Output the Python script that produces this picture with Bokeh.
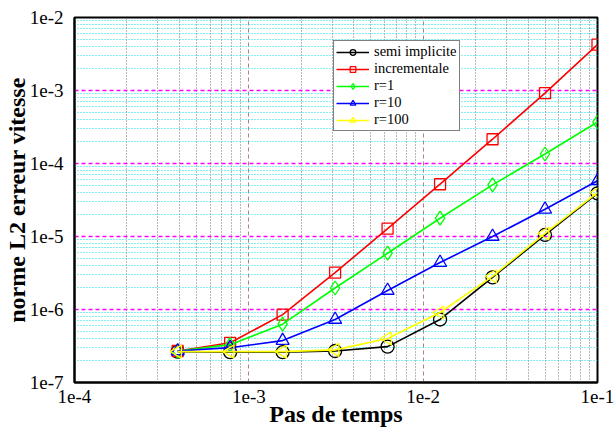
from bokeh.plotting import figure
from bokeh.models import FixedTicker, CustomJSTickFormatter, Legend, LegendItem
from bokeh.embed import file_html
from bokeh.resources import INLINE
import math

# ---- data ----
dt = [0.000390625, 0.00078125, 0.0015625, 0.003125, 0.00625, 0.0125, 0.025, 0.05, 0.1]
semi_implicite = [2.65e-7, 2.6e-7, 2.6e-7, 2.7e-7, 3.1e-7, 7.3e-7, 2.75e-6, 1.05e-5, 3.9e-5]
incrementale = [2.7e-7, 3.5e-7, 8.5e-7, 3.2e-6, 1.28e-5, 5.2e-5, 2.15e-4, 9.2e-4, 4.25e-3]
r1 = [2.7e-7, 3.3e-7, 6.3e-7, 1.97e-6, 5.9e-6, 1.78e-5, 5.1e-5, 1.35e-4, 3.7e-4]
r10 = [2.7e-7, 3.0e-7, 3.75e-7, 7.3e-7, 1.82e-6, 4.4e-6, 1.0e-5, 2.36e-5, 5.8e-5]
r100 = [2.65e-7, 2.65e-7, 2.65e-7, 2.8e-7, 4.0e-7, 9.1e-7, 2.85e-6, 1.1e-5, 4.0e-5]

series_labels = ["semi implicite", "incrementale", "r=1", "r=10", "r=100"]
x_major = [1e-4, 1e-3, 1e-2, 1e-1]
y_major = [1e-7, 1e-6, 1e-5, 1e-4, 1e-3, 1e-2]

x_minor = [m * d for d in x_major[:-1] for m in range(2, 10)]
y_minor = [m * d for d in y_major[:-1] for m in range(2, 10)]

SERIF = "Liberation Serif"

p = figure(width=616, height=429, x_axis_type="log", y_axis_type="log",
           x_range=(1e-4, 1e-1), y_range=(1e-7, 1e-2),
           output_backend="svg", toolbar_location=None,
           min_border_left=73, min_border_right=19, min_border_top=17, min_border_bottom=45)
p.background_fill_color = "white"
p.border_fill_color = "white"
p.outline_line_color = "black"
p.outline_line_width = 2

p.xaxis.ticker = FixedTicker(ticks=x_major, minor_ticks=x_minor)
p.yaxis.ticker = FixedTicker(ticks=y_major, minor_ticks=y_minor)
fmt = CustomJSTickFormatter(code="return tick.toExponential(0).replace('+','');")
p.xaxis.formatter = fmt
p.yaxis.formatter = fmt

for ax in (p.xaxis, p.yaxis):
    ax.major_tick_line_color = None
    ax.minor_tick_line_color = None
    ax.axis_line_color = "black"
    ax.axis_line_width = 2
    ax.major_label_text_font = SERIF
    ax.major_label_text_font_size = "19px"
    ax.major_label_text_color = "black"
    ax.axis_label_text_font = SERIF
    ax.axis_label_text_font_size = "24px"
    ax.axis_label_text_font_style = "bold"
    ax.axis_label_text_color = "black"

p.xaxis.axis_label = "Pas de temps"
p.yaxis.axis_label = "norme L2 erreur vitesse"
p.xaxis.major_label_standoff = 1
p.xaxis.axis_label_standoff = -5
p.yaxis.major_label_standoff = 5
p.yaxis.axis_label_standoff = -3

# grids
p.xgrid.grid_line_color = "#b08080"
p.xgrid.grid_line_dash = "4 3"
p.xgrid.grid_line_width = 1
p.xgrid.minor_grid_line_color = "#707070"
p.xgrid.minor_grid_line_dash = "1 2"
p.xgrid.minor_grid_line_width = 1
p.ygrid.grid_line_color = "#ff00ff"
p.ygrid.grid_line_dash = "4 3"
p.ygrid.grid_line_width = 1.5
p.ygrid.minor_grid_line_color = "#00e8e8"
p.ygrid.minor_grid_line_dash = "1 2"
p.ygrid.minor_grid_line_width = 1

colors = ["black", "#ff0000", "#00ff00", "#0000ff", "#ffff00"]
markers = ["circle", "square", "diamond", "triangle", "triangle"]
angles = [0, 0, 0, 0, math.pi / 2]
sizes = [13, 11, 14, 13, 13]
ys = [semi_implicite, incrementale, r1, r10, r100]

items = []
for lab, col, mk, ang, sz, yv in zip(series_labels, colors, markers, angles, sizes, ys):
    lr = p.line(dt, yv, line_color=col, line_width=1.6)
    sr = p.scatter(dt, yv, marker=mk, size=sz, angle=ang, line_color=col,
                   fill_color=None, line_width=1.3)
    items.append(LegendItem(label=lab, renderers=[lr, sr]))

legend = Legend(items=items, location=(259, 251))
legend.label_text_font = SERIF
legend.label_text_font_size = "14.5px"
legend.label_text_color = "black"
legend.border_line_color = "black"
legend.border_line_width = 1.5
legend.background_fill_color = "white"
legend.background_fill_alpha = 1
legend.glyph_width = 33
legend.glyph_height = 14
legend.label_height = 14
legend.label_standoff = 5
legend.spacing = -2
legend.padding = 2
legend.margin = 0
p.add_layout(legend, "center")

open("out.html", "w").write(file_html(p, INLINE))
